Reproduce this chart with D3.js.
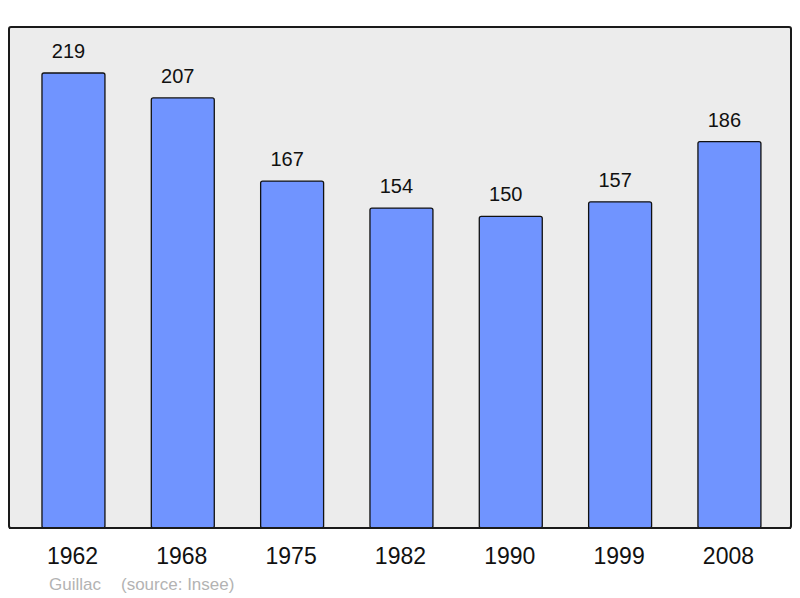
<!DOCTYPE html>
<html>
<head>
<meta charset="utf-8">
<script src="https://cdn.jsdelivr.net/npm/d3@7"></script>
<style>
  body { margin: 0; background: #fff; }
  text { font-family: "Liberation Sans", Arial, sans-serif; }
</style>
</head>
<body>
<div id="chart"></div>
<script>
var years = ["1962", "1968", "1975", "1982", "1990", "1999", "2008"];
var population = [219, 207, 167, 154, 150, 157, 186];

var width = 800, height = 598;

var svg = d3.select("#chart")
    .append("svg")
    .attr("width", width)
    .attr("height", height);

// frame
svg.append("rect")
    .attr("x", 9)
    .attr("y", 27)
    .attr("width", 782)
    .attr("height", 501)
    .attr("rx", 2)
    .attr("fill", "#ececec")
    .attr("stroke", "#1a1a1a")
    .attr("stroke-width", 2);

var x = d3.scaleBand()
    .domain(years)
    .range([18.8, 784.1])
    .paddingInner(0.424)
    .paddingOuter(0.212);

var y = d3.scaleLinear()
    .domain([0, 219])
    .range([528, 73]);

var data = years.map(function(d, i) { return {year: d, value: population[i]}; });

// bars
svg.append("g")
    .selectAll("rect")
    .data(data)
    .enter()
    .append("rect")
    .attr("x", function(d) { return x(d.year); })
    .attr("y", function(d) { return y(d.value); })
    .attr("width", x.bandwidth())
    .attr("height", function(d) { return y(0) - y(d.value); })
    .attr("rx", 2)
    .attr("fill", "#7094ff")
    .attr("stroke", "#111")
    .attr("stroke-width", 1.3);

// value labels (sit a little left of the bar centre in the original)
svg.append("g")
    .selectAll("text")
    .data(data)
    .enter()
    .append("text")
    .attr("x", function(d) { return x(d.year) + x.bandwidth() / 2 - 5; })
    .attr("y", function(d) { return y(d.value) - 15; })
    .attr("text-anchor", "middle")
    .attr("font-size", 20)
    .attr("fill", "#111")
    .text(function(d) { return d.value; });

// redraw frame bottom line over bars
svg.append("line")
    .attr("x1", 9).attr("x2", 791)
    .attr("y1", 528).attr("y2", 528)
    .attr("stroke", "#1a1a1a")
    .attr("stroke-width", 2);

// year labels
svg.append("g")
    .selectAll("text")
    .data(years)
    .enter()
    .append("text")
    .attr("x", function(d) { return x(d) + x.bandwidth() / 2 - 1; })
    .attr("y", 564)
    .attr("text-anchor", "middle")
    .attr("font-size", 23)
    .attr("fill", "#111")
    .text(function(d) { return d; });

// footer
svg.append("text")
    .attr("x", 49)
    .attr("y", 590)
    .attr("font-size", 17)
    .attr("fill", "#b3b3b3")
    .text("Guillac");

svg.append("text")
    .attr("x", 121)
    .attr("y", 590)
    .attr("font-size", 17)
    .attr("fill", "#b3b3b3")
    .text("(source: Insee)");
</script>
</body>
</html>
